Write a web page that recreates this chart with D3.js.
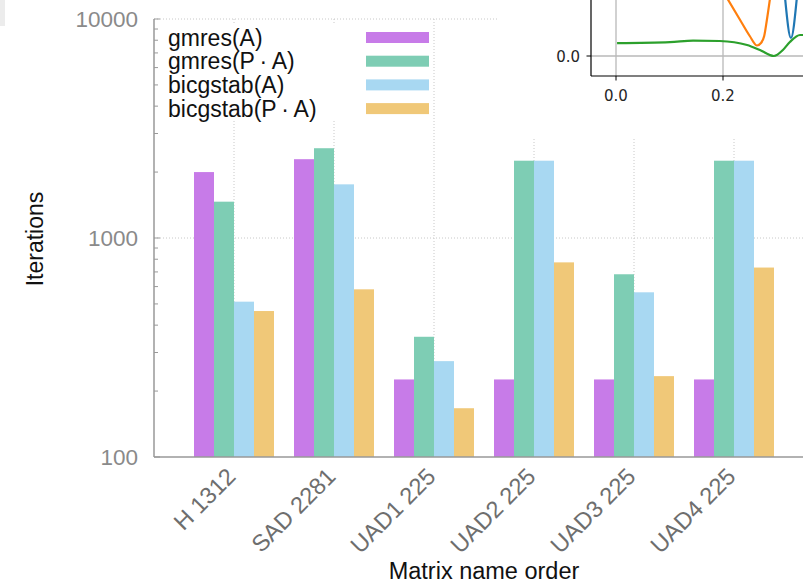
<!DOCTYPE html>
<html>
<head>
<meta charset="utf-8">
<script src="https://cdn.jsdelivr.net/npm/d3@7"></script>
<style>
body { margin: 0; background: #fff; }
svg { display: block; }
</style>
</head>
<body>
<div id="container"></div>
<script>
var width = 803;
var height = 583;

// bar chart data (log scale, iterations)
var matrices = ["H 1312", "SAD 2281", "UAD1 225", "UAD2 225", "UAD3 225", "UAD4 225"];
var methods = ["gmres(A)", "gmres(P\u2009\u00b7\u2009A)", "bicgstab(A)", "bicgstab(P\u2009\u00b7\u2009A)"];
var colors = ["#c77be8", "#7ecdb4", "#a8d8f2", "#f0c878"];
var gmresA = [2000, 2290, 226, 226, 226, 226];
var gmresPA = [1465, 2570, 354, 2254, 683, 2254];
var bicgA = [512, 1758, 274, 2254, 565, 2254];
var bicgPA = [464, 583, 167, 774, 234, 733];
var yTicks = [100, 1000, 10000];

// piece of another figure overlapping the top right corner
var insetXTicks = [0.0, 0.2];
var insetYTicks = [0.0];
var greenX = [0.002, 0.101, 0.144, 0.194, 0.245, 0.269, 0.295, 0.312, 0.325, 0.344, 0.363];
var greenY = [0.064, 0.069, 0.077, 0.075, 0.055, 0.030, 0.000, 0.030, 0.070, 0.105, 0.105];
var orangeX = [0.2075, 0.232, 0.250, 0.2636, 0.271, 0.277, 0.282, 0.288];
var orangeY = [0.29, 0.18, 0.10, 0.0525, 0.065, 0.10, 0.18, 0.29];
var blueX = [0.316, 0.327, 0.338];
var blueY = [0.29, 0.09, 0.29];

var series = [gmresA, gmresPA, bicgA, bicgPA];

var svg = d3.select("div#container").append("svg")
    .attr("width", width)
    .attr("height", height)
    .attr("viewBox", "0 0 " + width + " " + height);

var font = "'Liberation Sans', Arial, Helvetica, sans-serif";

// scales
var x = d3.scaleBand().domain(matrices).range([184, 784]).paddingInner(0.2).paddingOuter(0.1);
var xs = d3.scaleBand().domain(d3.range(methods.length)).range([0, x.bandwidth()]);
var y = d3.scaleLog().domain([100, 10000]).range([457, 19]);
var x0 = 154;

// grid (dotted)
svg.selectAll("line.hgrid")
    .data(yTicks.slice(1))
    .enter().append("line")
    .attr("x1", x0).attr("x2", width)
    .attr("y1", function(d) { return y(d); })
    .attr("y2", function(d) { return y(d); })
    .attr("stroke", "#c8c8c8")
    .attr("stroke-dasharray", "1,2");

svg.selectAll("line.vgrid")
    .data(matrices)
    .enter().append("line")
    .attr("x1", function(d) { return x(d) + x.bandwidth() / 2; })
    .attr("x2", function(d) { return x(d) + x.bandwidth() / 2; })
    .attr("y1", y(10000)).attr("y2", y(100))
    .attr("stroke", "#c8c8c8")
    .attr("stroke-dasharray", "1,2");

// bars
series.forEach(function(vals, k) {
    svg.selectAll("rect.s" + k)
        .data(vals)
        .enter().append("rect")
        .attr("x", function(d, i) { return x(matrices[i]) + xs(k); })
        .attr("width", xs.bandwidth())
        .attr("y", function(d) { return y(d); })
        .attr("height", function(d) { return y(100) - y(d); })
        .attr("fill", colors[k]);
});

// axes
svg.append("line").attr("x1", x0).attr("x2", x0).attr("y1", y(10000)).attr("y2", y(100))
    .attr("stroke", "#999").attr("stroke-width", 1.5);
svg.append("line").attr("x1", x0).attr("x2", width).attr("y1", y(100)).attr("y2", y(100))
    .attr("stroke", "#999").attr("stroke-width", 1.5);

// minor ticks on log axis
svg.selectAll("line.ytick")
    .data(y.ticks())
    .enter().append("line")
    .attr("x1", x0)
    .attr("x2", function(d) { return yTicks.indexOf(d) >= 0 ? x0 + 6 : x0 + 4; })
    .attr("y1", function(d) { return y(d); })
    .attr("y2", function(d) { return y(d); })
    .attr("stroke", "#999");

svg.selectAll("text.ylab")
    .data(yTicks)
    .enter().append("text")
    .attr("x", 138)
    .attr("y", function(d) { return y(d) + 8; })
    .attr("text-anchor", "end")
    .attr("font-family", font)
    .attr("font-size", 22.5)
    .attr("fill", "#8a8a8a")
    .text(function(d) { return d; });

svg.selectAll("text.xlab")
    .data(matrices)
    .enter().append("text")
    .attr("transform", function(d) {
        return "translate(" + (x(d) + x.bandwidth() / 2 + 3) + ",478) rotate(-45)";
    })
    .attr("text-anchor", "end")
    .attr("font-family", font)
    .attr("font-size", 23.5)
    .attr("fill", "#6e6e6e")
    .text(function(d) { return d; });

svg.append("text")
    .attr("transform", "translate(43,239) rotate(-90)")
    .attr("text-anchor", "middle")
    .attr("font-family", font)
    .attr("font-size", 23)
    .attr("fill", "#111")
    .text("Iterations");

svg.append("text")
    .attr("x", 484).attr("y", 579)
    .attr("text-anchor", "middle")
    .attr("font-family", font)
    .attr("font-size", 23.5)
    .attr("fill", "#111")
    .text("Matrix name order");

// legend (opaque)
svg.append("rect").attr("x", 160).attr("y", 25).attr("width", 272).attr("height", 94).attr("fill", "#fff");
var legend = svg.selectAll("g.legend")
    .data(methods)
    .enter().append("g")
    .attr("transform", function(d, i) { return "translate(0," + (37.5 + i * 23.7) + ")"; });
legend.append("text")
    .attr("x", 168).attr("y", 8)
    .attr("font-family", font)
    .attr("font-size", 23)
    .attr("fill", "#111")
    .text(function(d) { return d; });
legend.append("rect")
    .attr("x", 366).attr("y", -5.5)
    .attr("width", 63).attr("height", 11)
    .attr("fill", function(d, i) { return colors[i]; });

// small grey patch top-left of the screenshot
svg.append("rect").attr("x", 0).attr("y", 0).attr("width", 5).attr("height", 26).attr("fill", "#ececec");

// overlapping inset figure
var ix = d3.scaleLinear().domain([0, 0.2]).range([616, 723]);
var iy = d3.scaleLinear().domain([0, 0.1]).range([56, 36]);
var inset = svg.append("g");
inset.append("rect").attr("x", 497).attr("y", 0).attr("width", width - 497).attr("height", 138).attr("fill", "#fff");
svg.append("clipPath").attr("id", "iclip")
    .append("rect").attr("x", 591).attr("y", 0).attr("width", width - 591).attr("height", 76);

inset.selectAll("line.ixg")
    .data(insetXTicks)
    .enter().append("line")
    .attr("x1", ix).attr("x2", ix).attr("y1", 0).attr("y2", 76)
    .attr("stroke", "#b8b8b8").attr("stroke-width", 1.3);
inset.selectAll("line.iyg")
    .data(insetYTicks)
    .enter().append("line")
    .attr("x1", 591).attr("x2", width).attr("y1", iy).attr("y2", iy)
    .attr("stroke", "#b8b8b8").attr("stroke-width", 1.3);

var lineGen = d3.line()
    .x(function(d) { return ix(d[0]); })
    .y(function(d) { return iy(d[1]); })
    .curve(d3.curveMonotoneX);
var linesG = inset.append("g").attr("clip-path", "url(#iclip)");
[[greenX, greenY, "#2ca02c"], [orangeX, orangeY, "#ff7f0e"], [blueX, blueY, "#1f77b4"]].forEach(function(s) {
    linesG.append("path")
        .attr("d", lineGen(d3.zip(s[0], s[1])))
        .attr("fill", "none")
        .attr("stroke", s[2])
        .attr("stroke-width", 2.2);
});

inset.append("line").attr("x1", 591).attr("x2", 591).attr("y1", 0).attr("y2", 76)
    .attr("stroke", "#000").attr("stroke-width", 1.2);
inset.append("line").attr("x1", 591).attr("x2", width).attr("y1", 76).attr("y2", 76)
    .attr("stroke", "#000").attr("stroke-width", 1.2);

inset.selectAll("line.ixt")
    .data(insetXTicks)
    .enter().append("line")
    .attr("x1", ix).attr("x2", ix).attr("y1", 76).attr("y2", 80.5)
    .attr("stroke", "#000");
inset.selectAll("line.iyt")
    .data(insetYTicks)
    .enter().append("line")
    .attr("x1", 586.5).attr("x2", 591).attr("y1", iy).attr("y2", iy)
    .attr("stroke", "#000");

inset.selectAll("text.ixl")
    .data(insetXTicks)
    .enter().append("text")
    .attr("x", ix).attr("y", 101)
    .attr("text-anchor", "middle")
    .attr("font-family", "'DejaVu Sans', sans-serif")
    .attr("font-size", 15)
    .attr("fill", "#262626")
    .text(function(d) { return d.toFixed(1); });
inset.selectAll("text.iyl")
    .data(insetYTicks)
    .enter().append("text")
    .attr("x", 580).attr("y", function(d) { return iy(d) + 5.5; })
    .attr("text-anchor", "end")
    .attr("font-family", "'DejaVu Sans', sans-serif")
    .attr("font-size", 15)
    .attr("fill", "#262626")
    .text(function(d) { return d.toFixed(1); });
</script>
</body>
</html>
